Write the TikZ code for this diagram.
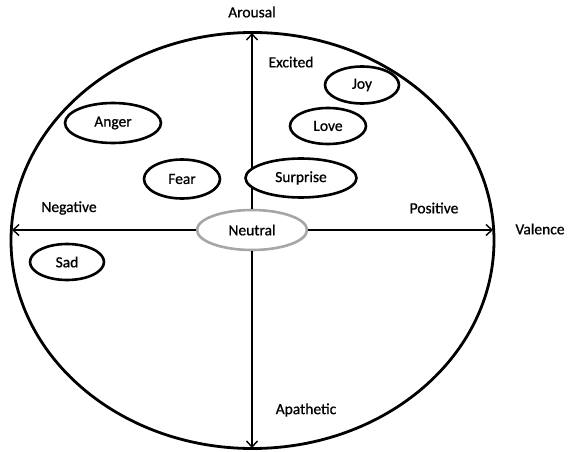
\documentclass[tikz,border=0pt]{standalone}
\usepackage{fontspec}
\setmainfont{Carlito}
\newfontfamily\lblfont{Carlito}[FakeBold=0.8]
\usetikzlibrary{arrows.meta,shapes.geometric}
\begin{document}
\begin{tikzpicture}[x=1pt,y=-1pt,
  font=\lblfont\fontsize{15.5}{18}\selectfont,
  emo/.style={draw=black,line width=2.6pt,ellipse,fill=white,inner sep=0pt},
  neutral/.style={draw=gray!70,line width=2.6pt,ellipse,fill=white,minimum width=110pt,minimum height=40pt,inner sep=0pt},
  axis/.style={line width=1.5pt,-{Straight Barb[length=6pt,width=11pt,line width=1.4pt]}},
  lbl/.style={inner sep=0pt,anchor=center}]
\useasboundingbox (0,0) rectangle (570,452);
% outer circumplex boundary
\draw[line width=2.8pt] (252.5,240.5) ellipse [x radius=241.5, y radius=208];
% axis end points on the boundary
\coordinate (top) at (252,33);
\coordinate (bot) at (252,448);
\coordinate (lft) at (12,230);
\coordinate (rgt) at (493,230);
% centre state, with the four axes leaving it
\node[neutral] (neu) at (252,230) {Neutral};
\draw[axis] (neu.north) -- (top);
\draw[axis] (neu.south) -- (bot);
\draw[axis] (neu.west) -- (lft);
\draw[axis] (neu.east) -- (rgt);
% emotion states
\node[emo,minimum width=74pt,minimum height=37pt] (joy) at (362,85) {Joy};
\node[emo,minimum width=76pt,minimum height=36pt] (love) at (328,126) {Love};
\node[emo,minimum width=96pt,minimum height=40pt] (anger) at (113,123) {Anger};
\node[emo,minimum width=76pt,minimum height=39pt] (fear) at (182,179) {Fear};
\node[emo,minimum width=111pt,minimum height=39pt] (surp) at (301,178) {Surprise};
\node[emo,minimum width=74pt,minimum height=36pt] (sad) at (67,262) {Sad};
% axis labels
\node[lbl] (aro) at (252,12) {Arousal};
\node[lbl] (exc) at (291,62) {Excited};
\node[lbl] (neg) at (69,208) {Negative};
\node[lbl] (pos) at (434,208) {Positive};
\node[lbl] (val) at (540,229) {Valence};
\node[lbl] (apa) at (306,410) {Apathetic};
\end{tikzpicture}
\end{document}
